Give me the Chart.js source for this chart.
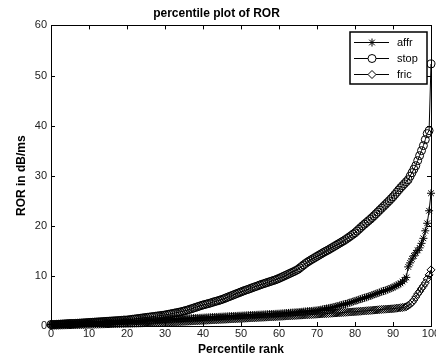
<!DOCTYPE html>
<html>
<head>
<meta charset="utf-8">
<script src="https://cdn.jsdelivr.net/npm/chart.js@4"></script>
<style>
  html, body { margin: 0; padding: 0; background: #fff; }
</style>
</head>
<body>
<canvas id="chart" width="436" height="362"></canvas>
<script>
// percentile rank 0, 0.5, 1 ... 100 (x axis)
const ranks = Array.from({ length: 201 }, (_, i) => i / 2);

const affr = [
  0.3, 0.3, 0.3, 0.33, 0.35, 0.35, 0.35, 0.38, 0.4, 0.4,
  0.4, 0.43, 0.45, 0.48, 0.5, 0.5, 0.5, 0.53, 0.55, 0.58,
  0.6, 0.61, 0.62, 0.64, 0.65, 0.67, 0.68, 0.69, 0.7, 0.71,
  0.72, 0.74, 0.75, 0.77, 0.78, 0.79, 0.8, 0.82, 0.83, 0.84,
  0.85, 0.87, 0.89, 0.91, 0.93, 0.95, 0.97, 0.99, 1.01, 1.03,
  1.05, 1.08, 1.1, 1.12, 1.14, 1.16, 1.18, 1.2, 1.22, 1.24,
  1.26, 1.28, 1.3, 1.32, 1.34, 1.36, 1.38, 1.4, 1.42, 1.44,
  1.46, 1.48, 1.5, 1.52, 1.54, 1.56, 1.58, 1.6, 1.62, 1.64,
  1.66, 1.68, 1.7, 1.72, 1.74, 1.76, 1.78, 1.8, 1.82, 1.84,
  1.86, 1.88, 1.9, 1.92, 1.94, 1.96, 1.98, 2.0, 2.02, 2.04,
  2.06, 2.08, 2.1, 2.12, 2.14, 2.16, 2.18, 2.2, 2.22, 2.24,
  2.26, 2.28, 2.3, 2.32, 2.34, 2.36, 2.38, 2.4, 2.42, 2.44,
  2.46, 2.49, 2.52, 2.55, 2.58, 2.61, 2.64, 2.67, 2.7, 2.73,
  2.76, 2.8, 2.83, 2.87, 2.9, 2.94, 2.97, 3.0, 3.04, 3.08,
  3.12, 3.18, 3.25, 3.33, 3.4, 3.48, 3.55, 3.63, 3.7, 3.8,
  3.9, 4.0, 4.1, 4.2, 4.3, 4.4, 4.5, 4.63, 4.75, 4.88,
  5.0, 5.13, 5.25, 5.38, 5.5, 5.63, 5.75, 5.88, 6.0, 6.15,
  6.3, 6.43, 6.55, 6.7, 6.85, 6.98, 7.1, 7.25, 7.4, 7.55,
  7.7, 7.9, 8.1, 8.3, 8.5, 8.85, 9.2, 9.7, 11.8, 12.6,
  13.4, 14.0, 14.6, 15.1, 15.6, 16.5, 17.5, 19.0, 20.5, 23.0,
  26.5
];

const stop = [
  0.3, 0.3, 0.3, 0.33, 0.35, 0.38, 0.4, 0.43, 0.45, 0.48,
  0.5, 0.5, 0.5, 0.53, 0.55, 0.58, 0.6, 0.63, 0.65, 0.68,
  0.7, 0.73, 0.75, 0.78, 0.8, 0.83, 0.85, 0.88, 0.9, 0.93,
  0.95, 0.98, 1.0, 1.03, 1.05, 1.08, 1.1, 1.13, 1.15, 1.18,
  1.2, 1.25, 1.3, 1.35, 1.4, 1.45, 1.5, 1.55, 1.6, 1.65,
  1.7, 1.75, 1.8, 1.85, 1.9, 1.95, 2.0, 2.05, 2.1, 2.15,
  2.2, 2.28, 2.35, 2.43, 2.5, 2.58, 2.65, 2.73, 2.8, 2.9,
  3.0, 3.1, 3.2, 3.33, 3.45, 3.58, 3.7, 3.83, 3.95, 4.08,
  4.2, 4.3, 4.4, 4.5, 4.6, 4.73, 4.85, 4.95, 5.05, 5.18,
  5.3, 5.45, 5.6, 5.75, 5.9, 6.05, 6.2, 6.35, 6.5, 6.65,
  6.8, 6.95, 7.1, 7.23, 7.35, 7.5, 7.65, 7.78, 7.9, 8.05,
  8.2, 8.33, 8.45, 8.58, 8.7, 8.83, 8.95, 9.08, 9.2, 9.35,
  9.5, 9.68, 9.85, 10.03, 10.2, 10.38, 10.55, 10.73, 10.9, 11.1,
  11.3, 11.6, 11.9, 12.2, 12.5, 12.75, 13.0, 13.23, 13.45, 13.68,
  13.9, 14.13, 14.35, 14.58, 14.8, 15.0, 15.2, 15.43, 15.65, 15.88,
  16.1, 16.33, 16.55, 16.78, 17.0, 17.25, 17.5, 17.78, 18.05, 18.33,
  18.6, 18.95, 19.3, 19.65, 20.0, 20.33, 20.65, 20.98, 21.3, 21.65,
  22.0, 22.38, 22.75, 23.13, 23.5, 23.88, 24.25, 24.63, 25.0, 25.4,
  25.8, 26.25, 26.7, 27.15, 27.6, 28.0, 28.4, 28.8, 29.2, 29.9,
  30.6, 31.3, 32.0, 33.0, 34.0, 35.0, 36.0, 37.2, 38.4, 39.0,
  52.3
];

const fric = [
  0.1, 0.11, 0.12, 0.13, 0.14, 0.15, 0.16, 0.17, 0.18, 0.19,
  0.2, 0.21, 0.22, 0.23, 0.24, 0.25, 0.26, 0.27, 0.28, 0.29,
  0.3, 0.31, 0.32, 0.33, 0.34, 0.35, 0.36, 0.37, 0.38, 0.39,
  0.4, 0.41, 0.42, 0.43, 0.44, 0.45, 0.46, 0.47, 0.48, 0.49,
  0.5, 0.51, 0.52, 0.53, 0.54, 0.55, 0.56, 0.57, 0.58, 0.59,
  0.6, 0.61, 0.62, 0.63, 0.64, 0.65, 0.66, 0.67, 0.68, 0.69,
  0.7, 0.72, 0.74, 0.76, 0.78, 0.8, 0.82, 0.84, 0.86, 0.88,
  0.9, 0.92, 0.94, 0.96, 0.98, 1.0, 1.02, 1.04, 1.06, 1.08,
  1.1, 1.12, 1.14, 1.16, 1.18, 1.2, 1.22, 1.24, 1.26, 1.28,
  1.3, 1.32, 1.34, 1.36, 1.38, 1.4, 1.42, 1.44, 1.46, 1.48,
  1.5, 1.52, 1.54, 1.56, 1.58, 1.6, 1.62, 1.64, 1.66, 1.68,
  1.7, 1.72, 1.74, 1.76, 1.78, 1.8, 1.82, 1.84, 1.86, 1.88,
  1.9, 1.92, 1.94, 1.97, 1.99, 2.01, 2.03, 2.06, 2.08, 2.1,
  2.13, 2.15, 2.17, 2.19, 2.22, 2.24, 2.26, 2.28, 2.31, 2.33,
  2.35, 2.38, 2.4, 2.43, 2.45, 2.48, 2.5, 2.53, 2.55, 2.58,
  2.6, 2.63, 2.65, 2.68, 2.7, 2.73, 2.75, 2.78, 2.8, 2.83,
  2.85, 2.88, 2.91, 2.94, 2.98, 3.01, 3.04, 3.07, 3.1, 3.13,
  3.17, 3.2, 3.23, 3.27, 3.3, 3.33, 3.35, 3.38, 3.4, 3.43,
  3.45, 3.5, 3.55, 3.6, 3.65, 3.7, 3.75, 3.85, 4.1, 4.35,
  4.7, 5.2, 5.8, 6.4, 6.9, 7.5, 8.0, 8.6, 9.4, 10.2,
  11.2
];

const xTicks = [0, 10, 20, 30, 40, 50, 60, 70, 80, 90, 100];
const yTicks = [0, 10, 20, 30, 40, 50, 60];

const FONT = '"Liberation Sans", Arial, sans-serif';

function series(label, data, style) {
  return {
    label: label,
    data: data,
    borderColor: '#000',
    borderWidth: 1,
    pointStyle: style,
    pointRadius: 4,
    pointBorderColor: '#000',
    pointBackgroundColor: 'rgba(0,0,0,0)',
    pointBorderWidth: 1,
    tension: 0,
    clip: false
  };
}

// box, inward ticks on all four sides and the legend, matlab style
const framePlugin = {
  id: 'frame',
  afterDatasetsDraw(chart) {
    const ctx = chart.ctx;
    const a = chart.chartArea;
    const xs = chart.scales.x;
    const ys = chart.scales.y;
    ctx.save();
    ctx.strokeStyle = '#000';
    ctx.lineWidth = 1;
    ctx.strokeRect(Math.round(a.left) + 0.5, Math.round(a.top) + 0.5,
      Math.round(a.right - a.left), Math.round(a.bottom - a.top));
    ctx.beginPath();
    xTicks.forEach(v => {
      const px = Math.round(xs.getPixelForValue(v)) + 0.5;
      ctx.moveTo(px, a.bottom); ctx.lineTo(px, a.bottom - 4);
      ctx.moveTo(px, a.top); ctx.lineTo(px, a.top + 4);
    });
    yTicks.forEach(v => {
      const py = Math.round(ys.getPixelForValue(v)) + 0.5;
      ctx.moveTo(a.left, py); ctx.lineTo(a.left + 4, py);
      ctx.moveTo(a.right, py); ctx.lineTo(a.right - 4, py);
    });
    ctx.stroke();

    // legend
    const bx = 350, by = 32, bw = 77, bh = 52;
    ctx.fillStyle = '#fff';
    ctx.fillRect(bx, by, bw, bh);
    ctx.lineWidth = 1.5;
    ctx.strokeRect(bx, by, bw, bh);
    ctx.lineWidth = 1;
    ctx.font = '11px ' + FONT;
    ctx.textBaseline = 'middle';
    ctx.textAlign = 'left';
    chart.data.datasets.forEach((ds, i) => {
      const y = by + 10 + i * 16;
      ctx.beginPath();
      ctx.moveTo(354, y + 0.5);
      ctx.lineTo(389, y + 0.5);
      ctx.stroke();
      ctx.fillStyle = '#fff';
      Chart.helpers.drawPoint(ctx, {
        pointStyle: ds.pointStyle, radius: 4, borderWidth: 1
      }, 372, y + 0.5);
      ctx.fillStyle = '#000';
      ctx.fillText(ds.label, 397, y + 1);
    });
    ctx.restore();
  }
};

new Chart(document.getElementById('chart'), {
  type: 'line',
  data: {
    labels: ranks,
    datasets: [
      series('affr', affr, 'star'),
      series('stop', stop, 'circle'),
      series('fric', fric, 'rectRot')
    ]
  },
  options: {
    responsive: false,
    animation: false,
    layout: { padding: { left: 0, right: 3, top: 0, bottom: 0 } },
    plugins: {
      legend: { display: false },
      tooltip: { enabled: false },
      title: {
        display: true,
        text: 'percentile plot of ROR',
        color: '#000',
        font: { family: FONT, size: 12, weight: 'bold' },
        padding: { top: 6, bottom: 5 }
      }
    },
    scales: {
      x: {
        type: 'linear',
        min: 0,
        max: 100,
        afterBuildTicks: s => { s.ticks = xTicks.map(v => ({ value: v })); },
        afterFit: s => { s.height = 36; s.paddingLeft = 0; s.paddingRight = 0; },
        grid: { display: false, drawTicks: false },
        border: { display: false },
        ticks: { color: '#222', padding: 1, maxRotation: 0, autoSkip: false,
          font: { family: FONT, size: 11 } },
        title: {
          display: true, text: 'Percentile rank', color: '#000',
          font: { family: FONT, size: 12, weight: 'bold' },
          padding: { top: 5, bottom: 5 }
        }
      },
      y: {
        min: 0,
        max: 60,
        afterBuildTicks: s => { s.ticks = yTicks.map(v => ({ value: v })); },
        afterFit: s => { s.width = 51; s.paddingTop = 0; s.paddingBottom = 0; },
        grid: { display: false, drawTicks: false },
        border: { display: false },
        ticks: { color: '#222', padding: 4, font: { family: FONT, size: 11 } },
        title: {
          display: true, text: 'ROR in dB/ms', color: '#000',
          font: { family: FONT, size: 12, weight: 'bold' },
          padding: { top: 14, bottom: 0 }
        }
      }
    }
  },
  plugins: [framePlugin]
});
</script>
</body>
</html>
